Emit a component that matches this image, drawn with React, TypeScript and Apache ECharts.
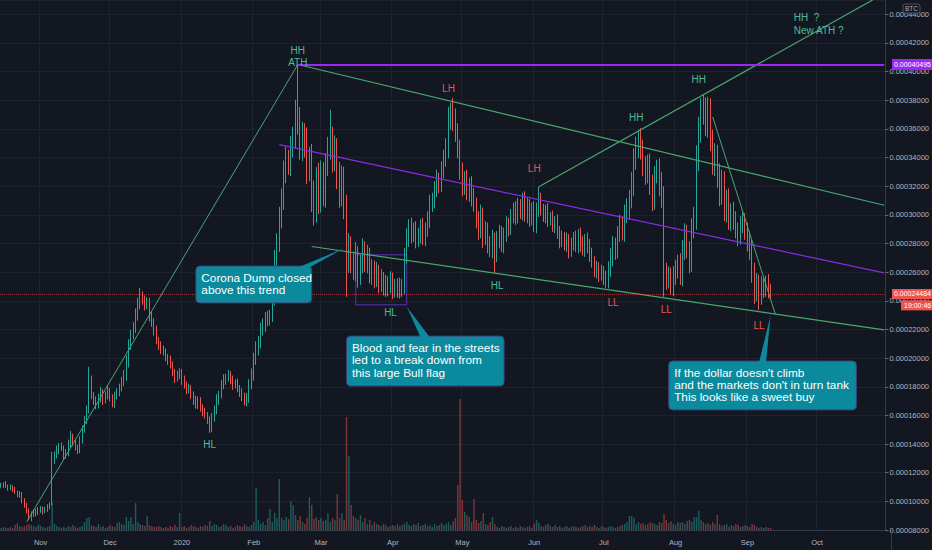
import React, { useEffect, useRef } from 'react';
import * as echarts from 'echarts';

const W = 932;
const H = 550;
const BG = '#131722';
const UP = '#26a69a';
const DOWN = '#ef5350';
const UP_VOL = 'rgba(38,166,154,0.5)';
const DOWN_VOL = 'rgba(239,83,80,0.5)';
const LINE_GREEN = '#47a86e';
const MID_PURPLE = '#8a2be2';
const ATH_PURPLE = '#9c27f5';
const BOX_PURPLE = '#5c2fb5';
const TXT_GREEN = '#4bbd96';
const TXT_RED = '#f0524f';
const CALLOUT = '#0b8a9d';
const AXIS_TXT = '#b2b5be';
const GRID_LINE = '#1e222d';
const AXIS_LINE = '#363a45';
const NARROW = '"Liberation Sans Narrow", "Liberation Sans", Arial, sans-serif';
const SANS = '"Liberation Sans", Arial, sans-serif';

// ---- time axis (daily categories) ----
const START_UTC = Date.UTC(2019, 9, 15);
const CATEGORY_DAYS = 382;
const monthTicks: [string, string][] = [
  ['2019-11-01', 'Nov'], ['2019-12-01', 'Dec'], ['2020-01-01', '2020'], ['2020-02-01', 'Feb'],
  ['2020-03-01', 'Mar'], ['2020-04-01', 'Apr'], ['2020-05-01', 'May'], ['2020-06-01', 'Jun'],
  ['2020-07-01', 'Jul'], ['2020-08-01', 'Aug'], ['2020-09-01', 'Sep'], ['2020-10-01', 'Oct'],
];

// ---- prices in satoshi (1e-8 BTC) ----
const FIRST_OPEN = 11100;
const closes = [
  11140, 11210, 11070, 10930, 11000, 10860, 10650, 10450, 10520, 10100,
  9750, 9400, 8910, 9120, 9330, 9190, 9400, 9540, 9330, 9470,
  9680, 9820, 12890, 13240, 13590, 13870, 13730, 13240, 13450, 14010,
  14570, 14150, 13800, 13660, 14290, 14990, 15690, 16380, 18480, 17430,
  17080, 16730, 17220, 17640, 17080, 17430, 17780, 17220, 16870, 17360,
  17640, 17920, 18340, 18760, 19740, 20920, 21620, 22110, 23020, 23720,
  24210, 24070, 23720, 23860, 22950, 22530, 21970, 21270, 20920, 20580,
  20430, 20090, 19880, 19530, 19040, 18620, 18830, 19040, 18480, 18130,
  17780, 17920, 17430, 17080, 16730, 17080, 16520, 16240, 16030, 15690,
  15130, 15820, 16380, 17080, 17430, 18130, 18480, 18620, 18830, 18480,
  18130, 18270, 17920, 17640, 17290, 16940, 17220, 18130, 18830, 19880,
  20580, 21130, 21970, 22320, 22810, 22670, 23020, 24070, 26860, 27910,
  29660, 31050, 32800, 33850, 33500, 34690, 35250, 36990, 36290, 34550,
  35600, 34900, 33150, 33850, 31400, 30360, 32450, 31050, 32800, 31400,
  33500, 34550, 35250, 33850, 34550, 32800, 31400, 32450, 30700, 26860,
  27910, 26720, 26160, 27210, 25810, 26510, 27560, 26720, 27210, 25810,
  26300, 25470, 26020, 25120, 25610, 24770, 25330, 24910, 25470, 24630,
  25120, 24560, 25120, 24770, 27000, 28260, 29100, 28610, 28960, 28260,
  28610, 29100, 28400, 28960, 29660, 30700, 31050, 31750, 32450, 32100,
  33150, 33850, 34550, 36640, 37480, 36640, 35800, 34550, 33150, 32100,
  32450, 31610, 32100, 31190, 30700, 29660, 28960, 30010, 28400, 28960,
  27910, 27560, 28260, 27210, 28260, 28820, 27910, 28610, 29310, 29100,
  30010, 30360, 29800, 30700, 30210, 31050, 30010, 30700, 29660, 30360,
  29310, 30360, 31050, 30360, 30010, 30210, 29660, 29800, 29310, 29520,
  28820, 28260, 28400, 27910, 28260, 27560, 27910, 28400, 27910, 28610,
  27910, 27560, 28260, 27910, 27210, 26720, 26160, 26300, 25810, 26020,
  25610, 25470, 26160, 27000, 27910, 27560, 28610, 29310, 28820, 30010,
  30360, 31050, 32100, 33850, 34550, 35250, 34550, 33500, 32800, 33500,
  32100, 31050, 32800, 33150, 32100, 31400, 26160, 25470, 25810, 25120,
  25810, 26160, 26720, 25810, 27560, 28610, 27560, 26720, 28960, 29660,
  33850, 35940, 37340, 36990, 36290, 37340, 35250, 33500, 34200, 32800,
  31400, 32450, 30360, 31050, 29660, 30210, 29660, 28960, 28610, 29310,
  29520, 28960, 28260, 27560, 26160, 24770, 25330, 24420, 25120, 24770,
  25260, 24770, 24484,
];
const upperWicks = [
  150, 120, 200, 100, 180, 120, 150, 100, 200, 130,
  120, 150, 100, 180, 120, 150, 200, 130, 100, 150,
  120, 100, 560, 250, 300, 200, 250, 150, 200, 300,
  350, 150, 200, 150, 250, 300, 250, 300, 910, 300,
  200, 250, 300, 350, 200, 250, 300, 150, 250, 300,
  250, 300, 350, 400, 450, 400, 350, 400, 450, 500,
  700, 450, 300, 400, 350, 300, 250, 300, 200, 250,
  300, 250, 200, 300, 250, 200, 300, 250, 200, 300,
  250, 300, 200, 250, 300, 250, 200, 250, 300, 200,
  250, 350, 300, 400, 300, 350, 400, 300, 350, 250,
  300, 250, 300, 200, 250, 300, 350, 400, 450, 500,
  600, 400, 500, 450, 400, 500, 350, 500, 700, 800,
  900, 800, 1000, 900, 700, 800, 900, 1050, 3505, 1240,
  900, 800, 1200, 900, 1100, 1000, 900, 1200, 1000, 900,
  800, 900, 2090, 900, 1000, 800, 900, 1000, 900, 700,
  800, 600, 700, 900, 600, 700, 800, 600, 700, 500,
  600, 500, 700, 500, 600, 400, 500, 400, 600, 500,
  400, 450, 500, 400, 700, 800, 600, 700, 500, 600,
  500, 600, 700, 500, 600, 700, 500, 600, 700, 500,
  600, 700, 800, 900, 350, 700, 800, 600, 700, 500,
  600, 700, 500, 600, 700, 500, 600, 700, 500, 600,
  500, 600, 700, 500, 600, 500, 400, 500, 600, 500,
  400, 500, 600, 500, 400, 500, 600, 500, 400, 500,
  600, 500, 910, 500, 400, 500, 600, 400, 500, 400,
  500, 400, 500, 400, 500, 400, 500, 400, 500, 400,
  500, 600, 400, 500, 400, 500, 400, 500, 400, 500,
  400, 500, 600, 700, 600, 500, 600, 700, 600, 700,
  800, 700, 900, 800, 900, 690, 800, 700, 600, 700,
  800, 700, 600, 700, 800, 900, 600, 500, 600, 500,
  600, 700, 500, 600, 700, 800, 700, 600, 800, 900,
  1000, 900, 800, 1050, 1200, 900, 800, 700, 800, 700,
  800, 700, 600, 700, 800, 600, 700, 600, 500, 600,
  700, 600, 500, 600, 700, 500, 600, 500, 600, 500,
  500, 600, 400,
];
const lowerWicks = [
  150, 200, 120, 180, 150, 200, 130, 150, 200, 250,
  200, 250, 210, 300, 200, 250, 150, 200, 250, 150,
  200, 250, 120, 300, 250, 300, 200, 350, 250, 300,
  250, 300, 250, 350, 300, 250, 200, 300, 250, 300,
  350, 300, 250, 300, 350, 250, 300, 250, 300, 350,
  250, 300, 250, 300, 350, 400, 350, 300, 350, 400,
  300, 350, 400, 300, 400, 350, 400, 300, 350, 300,
  250, 300, 350, 250, 300, 350, 250, 300, 350, 250,
  300, 250, 300, 350, 250, 300, 250, 300, 250, 300,
  350, 300, 250, 300, 350, 250, 300, 350, 250, 300,
  350, 250, 300, 350, 300, 250, 300, 350, 300, 400,
  350, 400, 450, 400, 500, 450, 400, 500, 400, 600,
  500, 600, 700, 600, 700, 800, 700, 600, 690, 700,
  800, 900, 1000, 800, 1200, 1100, 900, 1000, 900, 800,
  900, 800, 700, 900, 800, 1000, 900, 800, 1000, 2580,
  900, 800, 700, 800, 900, 700, 600, 700, 800, 600,
  700, 600, 500, 600, 500, 400, 500, 600, 400, 500,
  400, 350, 400, 500, 300, 400, 500, 600, 500, 600,
  500, 600, 500, 600, 500, 600, 500, 600, 500, 600,
  500, 600, 500, 600, 700, 800, 700, 600, 700, 800,
  700, 600, 700, 600, 500, 600, 700, 600, 700, 500,
  600, 500, 600, 1260, 500, 600, 500, 600, 500, 600,
  500, 600, 500, 400, 500, 600, 500, 600, 500, 400,
  500, 600, 500, 400, 500, 600, 500, 400, 500, 600,
  500, 600, 500, 400, 500, 600, 500, 400, 500, 600,
  500, 400, 500, 600, 500, 400, 500, 600, 500, 400,
  500, 560, 600, 500, 600, 700, 600, 500, 600, 700,
  600, 700, 600, 800, 700, 600, 700, 800, 700, 600,
  700, 800, 700, 600, 800, 900, 1880, 700, 600, 700,
  800, 700, 600, 700, 800, 700, 600, 800, 700, 600,
  700, 800, 900, 700, 800, 900, 800, 700, 800, 900,
  800, 700, 800, 900, 700, 800, 700, 600, 800, 700,
  600, 700, 800, 700, 900, 1000, 800, 1050, 700, 600,
  500, 600, 400,
];
const volumes = [
  2, 3, 2, 2, 3, 2, 5, 7, 4, 3,
  4, 5, 6, 5, 4, 3, 5, 4, 3, 2,
  3, 4, 28, 6, 4, 3, 2, 3, 2, 4,
  3, 5, 3, 2, 3, 4, 8, 12, 13, 5,
  4, 3, 6, 3, 4, 2, 3, 5, 4, 3,
  7, 8, 6, 5, 13, 9, 13, 6, 27, 8,
  6, 5, 4, 14, 5, 4, 3, 3, 4, 3,
  2, 3, 2, 4, 3, 5, 3, 17, 3, 4,
  2, 3, 5, 4, 3, 2, 4, 3, 5, 4,
  9, 4, 6, 5, 3, 4, 6, 5, 3, 4,
  2, 3, 5, 4, 3, 6, 4, 3, 5, 8,
  42, 10, 6, 8, 5, 12, 21, 8, 17, 12,
  51, 12, 10, 13, 11, 29, 25, 15, 10, 14,
  8, 6, 12, 33, 25, 11, 13, 10, 12, 9,
  10, 17, 8, 12, 10, 36, 12, 17, 10, 113,
  74, 25, 14, 12, 10, 15, 8, 12, 6, 10,
  5, 8, 6, 5, 4, 6, 5, 3, 4, 5,
  4, 6, 4, 5, 6, 8, 5, 4, 6, 5,
  7, 4, 5, 6, 4, 5, 3, 6, 4, 5,
  7, 5, 6, 8, 5, 9, 12, 45, 131, 30,
  18, 15, 13, 8, 31, 10, 7, 9, 17, 6,
  5, 8, 13, 6, 3, 2, 4, 3, 2, 3,
  4, 2, 3, 2, 4, 3, 2, 3, 4, 2,
  6, 10, 7, 4, 3, 5, 6, 4, 3, 5,
  3, 4, 2, 3, 4, 2, 3, 4, 3, 2,
  3, 4, 5, 3, 4, 3, 5, 3, 2, 4,
  3, 2, 3, 4, 3, 2, 3, 4, 5, 6,
  8, 14, 14, 12, 6, 8, 6, 7, 5, 6,
  8, 7, 6, 5, 8, 7, 16, 10, 7, 9,
  6, 5, 8, 7, 8, 6, 9, 10, 8, 13,
  13, 19, 10, 8, 6, 7, 5, 8, 6, 15,
  6, 4, 5, 6, 3, 5, 4, 6, 5, 3,
  4, 5, 4, 3, 6, 5, 3, 2, 3, 2,
  3, 2, 2,
];
const ATH = 40495;
const LAST = 24484;
const COUNTDOWN = '19:00:46';
const Y_MIN = 8000;
const Y_MAX = 45000;
const Y_STEP = 2000;
const VOL_MAX = 530;

// ---- drawings, anchored at [day index, price] ----
const trendLines = [
  { from: [11, 8560], to: [128, 40495], color: LINE_GREEN, width: 1 },
  { from: [128, 40495], to: [381, 30670], color: LINE_GREEN, width: 1.2 },
  { from: [134, 27790], to: [381, 21970], color: LINE_GREEN, width: 1.2 },
  { from: [120, 34900], to: [381, 25950], color: MID_PURPLE, width: 1.2 },
  { from: [232, 31960], to: [376, 45000], color: LINE_GREEN, width: 1.2 },
  { from: [307, 36830], to: [334, 23080], color: LINE_GREEN, width: 1 },
];
const athLine = { from: 128, to: 381 };
const flagBox = { from: [153, 27210], to: [175, 23720] };

const swingLabels = [
  { t: 'HH', i: 128, v: 41440, up: true },
  { t: 'ATH', i: 128, v: 40670, up: true },
  { t: 'LH', i: 193, v: 38790, up: false },
  { t: 'LH', i: 230, v: 33240, up: false },
  { t: 'HL', i: 214, v: 25070, up: true },
  { t: 'HL', i: 168, v: 23150, up: true },
  { t: 'HL', i: 90, v: 13970, up: true },
  { t: 'HH', i: 274, v: 36830, up: true },
  { t: 'HH', i: 301, v: 39440, up: true },
  { t: 'LL', i: 264, v: 23880, up: false },
  { t: 'LL', i: 287, v: 23390, up: false },
  { t: 'LL', i: 327, v: 22260, up: false },
];
const noteLines = [
  { t: 'HH  ?', i: 342, v: 43810 },
  { t: 'New ATH ?', i: 342, v: 42840 },
];
const callouts = [
  {
    lines: ['Corona Dump closed', 'above this trend'],
    box: [84, 26430, 134, 23850], base: [128, 133], tip: [148, 27670],
  },
  {
    lines: ['Blood and fear in the streets', 'led to a break down from', 'this large Bull flag'],
    box: [149, 21540, 217, 18050], base: [181, 185], tip: [175, 23590],
  },
  {
    lines: ["If the dollar doesn't climb", "and the markets don't in turn tank", 'This looks like a sweet buy'],
    box: [288, 19800, 369, 16380], base: [327, 330], tip: [332, 23010],
  },
];

const dates: string[] = Array.from({ length: CATEGORY_DAYS }, (_, k) =>
  new Date(START_UTC + k * 86400000).toISOString().slice(0, 10)
);
const tickMap = new Map<string, string>(monthTicks);

const candles = closes.map((c, i) => {
  const o = i === 0 ? FIRST_OPEN : closes[i - 1];
  const hi = Math.max(o, c) + upperWicks[i];
  const lo = Math.min(o, c) - lowerWicks[i];
  return [o, c, lo, hi];
});
const volumeItems = volumes.map((v, i) => ({
  value: v,
  itemStyle: { color: candles[i][1] >= candles[i][0] ? UP_VOL : DOWN_VOL },
}));

const fmt = (v: number) => (v / 1e8).toFixed(8);

function buildOption(): any {
  return {
    animation: false,
    backgroundColor: BG,
    grid: { left: 0, right: 41, top: 0, bottom: 20, containLabel: false },
    xAxis: {
      type: 'category',
      data: dates,
      boundaryGap: true,
      axisLine: { show: true, lineStyle: { color: AXIS_LINE } },
      axisTick: { show: false },
      axisLabel: {
        interval: (_: number, val: string) => tickMap.has(val),
        formatter: (val: string) => tickMap.get(val) || '',
        color: AXIS_TXT,
        fontSize: 7.5,
        fontFamily: NARROW,
        margin: 8,
      },
      splitLine: {
        show: true,
        interval: (_: number, val: string) => tickMap.has(val),
        lineStyle: { color: GRID_LINE, width: 1 },
      },
    },
    yAxis: [
      {
        type: 'value',
        position: 'right',
        min: Y_MIN,
        max: Y_MAX,
        interval: Y_STEP,
        axisLine: { show: true, lineStyle: { color: AXIS_LINE } },
        axisTick: { show: true, length: 3, lineStyle: { color: '#6a6d78' } },
        axisLabel: {
          color: AXIS_TXT,
          fontSize: 7.5,
          fontFamily: NARROW,
          margin: 4,
          showMaxLabel: false,
          formatter: (v: number) => fmt(v),
        },
        splitLine: { show: true, lineStyle: { color: GRID_LINE, width: 1 } },
      },
      { type: 'value', min: 0, max: VOL_MAX, show: false, splitLine: { show: false } },
    ],
    series: [
      {
        type: 'bar',
        name: 'Volume',
        xAxisIndex: 0,
        yAxisIndex: 1,
        data: volumeItems,
        barWidth: '60%',
        silent: true,
        z: 1,
      },
      {
        type: 'candlestick',
        name: 'Price',
        xAxisIndex: 0,
        yAxisIndex: 0,
        data: candles,
        barWidth: '48%',
        silent: true,
        z: 3,
        itemStyle: { color: UP, color0: DOWN, borderColor: UP, borderColor0: DOWN, borderWidth: 1 },
        markLine: {
          silent: true,
          symbol: ['none', 'none'],
          label: { show: false },
          emphasis: { disabled: true },
          data: [
            ...trendLines.map((t) => [
              { coord: [dates[t.from[0]], t.from[1]], lineStyle: { color: t.color, width: t.width, type: 'solid' } },
              { coord: [dates[t.to[0]], t.to[1]] },
            ]),
            [
              { coord: [dates[athLine.from], ATH], lineStyle: { color: ATH_PURPLE, width: 2, type: 'solid' } },
              { coord: [dates[athLine.to], ATH] },
            ],
            { yAxis: LAST, lineStyle: { color: 'rgba(239,83,80,0.55)', width: 1, type: 'dotted' } },
          ],
        },
        markArea: {
          silent: true,
          label: { show: false },
          emphasis: { disabled: true },
          data: [
            [
              {
                coord: [dates[flagBox.from[0]], flagBox.from[1]],
                itemStyle: { color: 'rgba(0,0,0,0)', borderColor: BOX_PURPLE, borderWidth: 1 },
              },
              { coord: [dates[flagBox.to[0]], flagBox.to[1]] },
            ],
          ],
        },
      },
    ],
  };
}

function buildGraphic(chart: any): any[] {
  const px = (i: number, v: number) =>
    chart.convertToPixel({ xAxisIndex: 0, yAxisIndex: 0 }, [dates[i], v]) as number[];
  const g: any[] = [];
  const txt = (text: string, x: number, y: number, fill: string, font: string, align: string, va: string, z: number) => ({
    type: 'text',
    silent: true,
    z,
    style: { text, x, y, fill, font, align, verticalAlign: va, textAlign: align, textVerticalAlign: va },
  });

  swingLabels.forEach((l) => {
    const [x, y] = px(l.i, l.v);
    g.push(txt(l.t, x, y, l.up ? TXT_GREEN : TXT_RED, `10px ${SANS}`, 'center', 'middle', 50));
  });
  noteLines.forEach((l) => {
    const [x, y] = px(l.i, l.v);
    g.push(txt(l.t, x, y, TXT_GREEN, `10px ${SANS}`, 'left', 'middle', 50));
  });

  callouts.forEach((c) => {
    const [x1, y1] = px(c.box[0], c.box[1]);
    const [x2, y2] = px(c.box[2], c.box[3]);
    const [bx1] = px(c.base[0], c.box[1]);
    const [bx2] = px(c.base[1], c.box[1]);
    const [tx, ty] = px(c.tip[0], c.tip[1]);
    g.push({
      type: 'rect', silent: true, z: 60,
      shape: { x: x1, y: y1, width: x2 - x1, height: y2 - y1, r: 4 },
      style: { fill: CALLOUT, stroke: '#3f3c7a', lineWidth: 1 },
    });
    g.push({
      type: 'polygon', silent: true, z: 61,
      shape: { points: [[bx1, y1 + 1.5], [tx, ty], [bx2, y1 + 1.5]] },
      style: { fill: CALLOUT },
    });
    g.push({
      type: 'text', silent: true, z: 62,
      style: {
        text: c.lines.join('\n'), x: x1 + 5.5, y: y1 + 5.5, fill: '#ffffff',
        font: `11.8px ${SANS}`, lineHeight: 12.4,
        align: 'left', verticalAlign: 'top', textAlign: 'left', textVerticalAlign: 'top',
      },
    });
  });

  const axX = chart.getWidth() - 41;
  const [, yAth] = px(0, ATH);
  const [, yLast] = px(0, LAST);
  const badgeFont = `7px ${NARROW}`;
  g.push({ type: 'rect', silent: true, z: 70, shape: { x: axX + 1, y: yAth - 5.5, width: 41, height: 11 }, style: { fill: ATH_PURPLE } });
  g.push(txt(fmt(ATH), axX + 3, yAth, '#ffffff', badgeFont, 'left', 'middle', 71));
  g.push({ type: 'rect', silent: true, z: 70, shape: { x: axX + 1, y: yLast - 5, width: 41, height: 10 }, style: { fill: DOWN } });
  g.push(txt(fmt(LAST), axX + 3, yLast, '#ffffff', badgeFont, 'left', 'middle', 71));
  g.push({ type: 'rect', silent: true, z: 70, shape: { x: axX + 10, y: yLast + 6.5, width: 32, height: 10 }, style: { fill: DOWN } });
  g.push(txt(COUNTDOWN, axX + 13, yLast + 11.5, '#ffffff', badgeFont, 'left', 'middle', 71));

  g.push({ type: 'rect', silent: true, z: 70, shape: { x: axX + 12, y: 4, width: 17, height: 9, r: 2 }, style: { fill: BG, stroke: '#50535e', lineWidth: 1 } });
  g.push(txt('BTC', axX + 20.5, 8.7, AXIS_TXT, `6.5px ${SANS}`, 'center', 'middle', 71));

  const h = chart.getHeight();
  g.push({ type: 'line', silent: true, z: 5, shape: { x1: axX + 0.5, y1: h - 20, x2: axX + 0.5, y2: h }, style: { stroke: AXIS_LINE, lineWidth: 1 } });
  return g;
}

export default function App() {
  const ref = useRef<HTMLDivElement>(null);
  useEffect(() => {
    document.body.style.margin = '0';
    document.body.style.background = BG;
    const chart = echarts.init(ref.current as HTMLDivElement, null, { renderer: 'svg', width: W, height: H });
    chart.setOption(buildOption());
    chart.setOption({ graphic: buildGraphic(chart) });
    return () => chart.dispose();
  }, []);
  return <div ref={ref} style={{ width: W, height: H, background: BG }} />;
}
